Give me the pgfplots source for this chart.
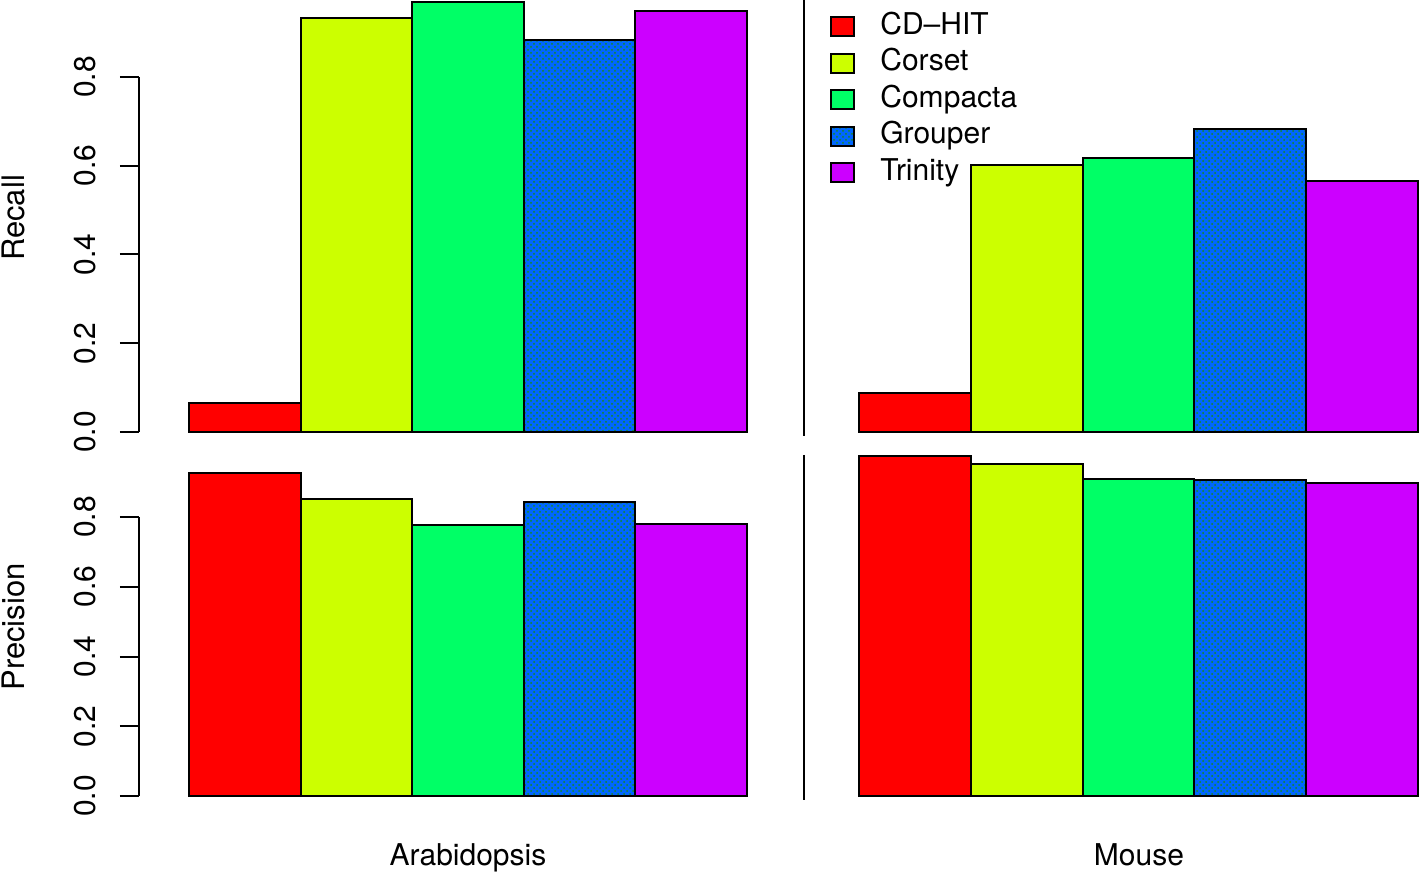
\documentclass[border=0pt]{standalone}
\usepackage{pgfplots}
\pgfplotsset{compat=1.18}
\usepackage{fontspec}
\setmainfont{TeX Gyre Heros}
\usetikzlibrary{patterns}
\definecolor{cdhit}{HTML}{FF0000}
\definecolor{corset}{HTML}{CCFF00}
\definecolor{compacta}{HTML}{00FF66}
\definecolor{grouper}{HTML}{0066FF}
\definecolor{trinity}{HTML}{CC00FF}
\definecolor{dotgreen}{HTML}{168C1E}
\newcommand\bigfont{\fontsize{15}{18}\selectfont}
\pgfplotsset{
  mybar/.style={ybar, bar width=1, bar shift=0pt, draw=black, line width=1pt, fill=#1,
    legend image code/.code={\draw[##1] (0pt,-4.75pt) rectangle (11.5pt,4.75pt);}},
  grp/.style={mybar=grouper, postaction={pattern=crosshatch dots, pattern color=dotgreen}},
  panel/.style={scale only axis, clip=false, ymin=0, ymax=0.8, anchor=south west,
    font=\bigfont, height=177.5pt},
  leftpanel/.style={panel, width=304pt, xmin=-0.948, xmax=4.5,
    axis x line=none, axis y line*=left,
    ytick={0,0.2,0.4,0.6,0.8}, tick align=outside, major tick length=9.5pt,
    y axis line style={line width=1pt, black},
    ytick style={line width=1pt, black},
    yticklabel style={rotate=90, anchor=south, inner sep=0pt, yshift=12pt, font=\bigfont,
      /pgf/number format/.cd, fixed, fixed zerofill, precision=1},
    /pgf/number format/assume math mode=true},
  rightpanel/.style={panel, width=279.5pt, xmin=-0.5, xmax=4.5, hide axis},
}
\begin{document}
\begin{tikzpicture}
\useasboundingbox (0,0) rectangle (709.5pt,436pt);
% top left: Recall, Arabidopsis
\begin{axis}[leftpanel, at={(69.5pt,220pt)}]
\addplot[mybar=cdhit] coordinates {(0,0.066)};
\addplot[mybar=corset] coordinates {(1,0.932)};
\addplot[mybar=compacta] coordinates {(2,0.970)};
\addplot[grp] coordinates {(3,0.883)};
\addplot[mybar=trinity] coordinates {(4,0.949)};
\end{axis}
% top right: Recall, Mouse
\begin{axis}[rightpanel, at={(429.5pt,220pt)},
  legend style={at={(-0.052,1.183)}, anchor=north west, draw=none, fill=none,
    inner sep=0pt, font=\bigfont, row sep=4pt,
    nodes={inner sep=0pt, text height=11pt, text depth=3.25pt},
    /tikz/every odd column/.append style={column sep=12.5pt}},
  legend cell align=left]
\addplot[mybar=cdhit] coordinates {(0,0.0886)};
\addplot[mybar=corset] coordinates {(1,0.601)};
\addplot[mybar=compacta] coordinates {(2,0.618)};
\addplot[grp] coordinates {(3,0.683)};
\addplot[mybar=trinity] coordinates {(4,0.566)};
\legend{CD--HIT, Corset, Compacta, Grouper, Trinity}
\end{axis}
% bottom left: Precision, Arabidopsis
\begin{axis}[leftpanel, height=139.5pt, at={(69.5pt,38pt)}]
\addplot[mybar=cdhit] coordinates {(0,0.925)};
\addplot[mybar=corset] coordinates {(1,0.853)};
\addplot[mybar=compacta] coordinates {(2,0.776)};
\addplot[grp] coordinates {(3,0.844)};
\addplot[mybar=trinity] coordinates {(4,0.779)};
\end{axis}
% bottom right: Precision, Mouse
\begin{axis}[rightpanel, height=139.5pt, at={(429.5pt,38pt)}]
\addplot[mybar=cdhit] coordinates {(0,0.976)};
\addplot[mybar=corset] coordinates {(1,0.952)};
\addplot[mybar=compacta] coordinates {(2,0.908)};
\addplot[grp] coordinates {(3,0.905)};
\addplot[mybar=trinity] coordinates {(4,0.897)};
\end{axis}
% separators
\draw[line width=1pt] (402pt,436pt) -- (402pt,218pt);
\draw[line width=1pt] (402pt,208.5pt) -- (402pt,36pt);
% labels
\node[rotate=90, anchor=base, inner sep=0pt, font=\fontsize{15.5}{18}\selectfont] at (12.5pt,327pt) {Recall};
\node[rotate=90, anchor=base, inner sep=0pt, font=\fontsize{15.5}{18}\selectfont] at (12.5pt,122.5pt) {Precision};
\node[anchor=base, inner sep=0pt, font=\bigfont] at (234pt,3pt) {Arabidopsis};
\node[anchor=base, inner sep=0pt, font=\bigfont] at (569.5pt,3pt) {Mouse};
\end{tikzpicture}
\end{document}
